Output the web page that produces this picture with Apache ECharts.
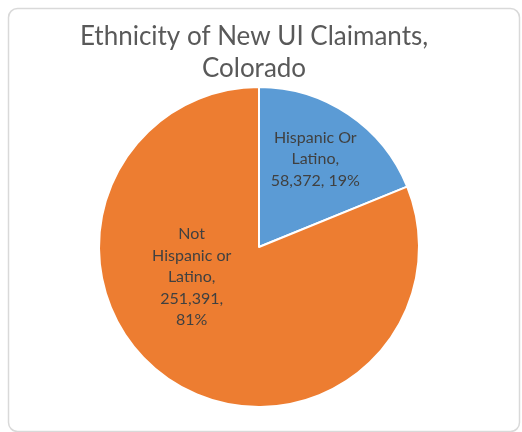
<!DOCTYPE html>
<html>
<head>
<meta charset="utf-8">
<script src="https://cdn.jsdelivr.net/npm/echarts@6/dist/echarts.min.js"></script>
<style>
html,body{margin:0;padding:0;background:#fff;}
#chart{width:522px;height:432px;}
</style>
</head>
<body>
<div id="chart"></div>
<script>
var titleText = 'Ethnicity of New UI Claimants,\nColorado';
var categories = ['Hispanic Or\nLatino', 'Not\nHispanic or\nLatino'];
var values = [58372, 251391];
var colors = ['#5B9BD5', '#ED7D31'];
var valuePctSeparators = [', ', ',\n'];
var labelOffsets = [[10, -19], [-21, -39]];

function fmtNum(n) {
  return String(n).replace(/\B(?=(\d{3})+(?!\d))/g, ',');
}

var chart = echarts.init(document.getElementById('chart'), null, {renderer: 'canvas'});
var data = categories.map(function (c, i) {
  return {
    name: c,
    value: values[i],
    itemStyle: {color: colors[i]},
    label: {offset: labelOffsets[i]}
  };
});

chart.setOption({
  animation: false,
  backgroundColor: '#fff',
  graphic: [{
    type: 'rect',
    shape: {x: 8.5, y: 8.5, width: 511, height: 423, r: 9},
    style: {fill: 'none', stroke: '#d9d9d9', lineWidth: 1.5},
    silent: true,
    z: -1
  }],
  title: {
    text: titleText,
    left: 249,
    textAlign: 'center',
    top: 16,
    textStyle: {
      fontFamily: 'Lato',
      fontWeight: 'normal',
      fontSize: 26,
      lineHeight: 32,
      color: '#595959'
    }
  },
  series: [{
    type: 'pie',
    center: [259, 247],
    radius: 160,
    startAngle: 90,
    clockwise: true,
    data: data,
    itemStyle: {borderColor: '#fff', borderWidth: 2},
    label: {
      show: true,
      position: 'inside',
      fontFamily: 'Lato',
      fontSize: 16,
      lineHeight: 21.5,
      color: '#404040',
      align: 'center',
      formatter: function (p) {
        return p.name + ',\n' + fmtNum(p.value) + valuePctSeparators[p.dataIndex] + Math.round(p.percent) + '%';
      }
    },
    labelLine: {show: false},
    emphasis: {disabled: true}
  }]
});
</script>
</body>
</html>
